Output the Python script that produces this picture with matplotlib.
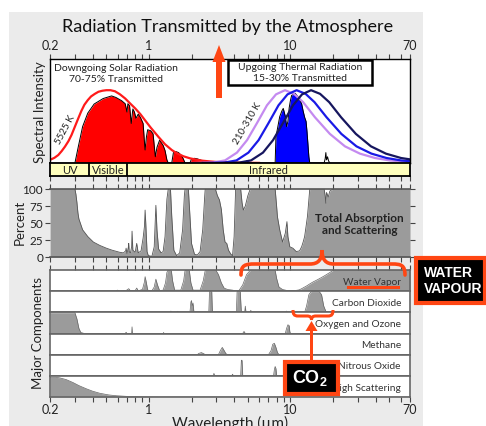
import matplotlib
matplotlib.use('Agg')
import matplotlib.pyplot as plt
import numpy as np
from matplotlib.ticker import FixedLocator, LogLocator, NullFormatter, FixedFormatter
from matplotlib.patches import Rectangle, Polygon, PathPatch
from matplotlib.path import Path

plt.rcParams['font.family'] = ['Lato', 'DejaVu Sans']
plt.rcParams['mathtext.fontset'] = 'custom'
plt.rcParams['mathtext.rm'] = 'Liberation Sans'
plt.rcParams['mathtext.bf'] = 'Liberation Sans:bold'

W, H = 486, 426

# wavelength axis
tick_vals = [0.2, 1, 10, 70]
tick_labels = ['0.2', '1', '10', '70']

# --- top panel: spectral intensity (arbitrary units, 0..1) ---
# 5525 K solar curve
sun_wl = [0.20, 0.215, 0.229, 0.242, 0.255, 0.27, 0.284, 0.30, 0.317, 0.333, 0.35, 0.37,
          0.39, 0.415, 0.44, 0.47, 0.50, 0.535, 0.575, 0.625, 0.68, 0.74, 0.80, 0.87,
          0.94, 1.03, 1.17, 1.30, 1.45, 1.57, 1.75, 1.95, 2.2, 2.4, 2.7, 3.0, 3.6, 4.5, 6.0]
sun_val = [0.03, 0.05, 0.077, 0.115, 0.157, 0.21, 0.27, 0.35, 0.43, 0.50, 0.56, 0.605,
           0.64, 0.665, 0.685, 0.695, 0.70, 0.70, 0.69, 0.66, 0.62, 0.57, 0.525, 0.47,
           0.41, 0.34, 0.25, 0.18, 0.125, 0.095, 0.065, 0.045, 0.03, 0.022, 0.015, 0.01,
           0.006, 0.003, 0.001]

# solar radiation reaching the ground
solar_wl = [0.30, 0.317, 0.34, 0.37, 0.41, 0.475, 0.545, 0.585, 0.64, 0.68, 0.70, 0.71,
            0.73, 0.75, 0.77, 0.79, 0.81, 0.84, 0.87, 0.89, 0.91, 0.93, 0.94, 0.96, 0.98,
            1.03, 1.07, 1.11, 1.14, 1.19, 1.26, 1.30, 1.34, 1.37, 1.45, 1.49, 1.55, 1.62,
            1.70, 1.75, 1.80, 1.95, 2.00, 2.10, 2.20, 2.35, 2.50, 3.3, 3.5, 3.7, 3.9, 4.1]
solar_val = [0.0, 0.157, 0.35, 0.48, 0.567, 0.62, 0.645, 0.63, 0.60, 0.57, 0.49, 0.57,
             0.55, 0.38, 0.52, 0.49, 0.43, 0.47, 0.44, 0.41, 0.38, 0.20, 0.125, 0.25, 0.32,
             0.31, 0.28, 0.06, 0.15, 0.22, 0.17, 0.12, 0.03, 0.0, 0.0, 0.10, 0.11, 0.10,
             0.07, 0.04, 0.0, 0.0, 0.04, 0.045, 0.04, 0.025, 0.0, 0.0, 0.008, 0.012, 0.006, 0.0]

# 210-310 K thermal curves
hot_wl = [2.0, 2.84, 3.45, 4.19, 4.94, 5.81, 6.83, 7.91, 9.16, 10.6, 12.3, 14.9, 19.0,
          24.3, 31.0, 39.6, 50.6, 70]
hot_val = [0.0, 0.004, 0.025, 0.10, 0.22, 0.385, 0.555, 0.66, 0.70, 0.665, 0.585, 0.44,
           0.28, 0.16, 0.09, 0.048, 0.024, 0.01]
mid_wl = [2.4, 3.42, 4.16, 5.05, 5.96, 7.01, 8.24, 9.54, 11.05, 12.8, 14.8, 18.0, 22.9,
          29.3, 37.4, 47.8, 61.0, 70]
mid_val = [0.0, 0.004, 0.025, 0.10, 0.22, 0.385, 0.555, 0.66, 0.70, 0.665, 0.585, 0.44,
           0.28, 0.16, 0.09, 0.048, 0.024, 0.018]
cold_wl = [3.0, 4.34, 5.27, 6.40, 7.54, 8.87, 10.43, 12.08, 13.99, 16.2, 18.8, 22.8,
           29.0, 37.1, 47.3, 60.5, 70]
cold_val = [0.0, 0.004, 0.025, 0.10, 0.22, 0.385, 0.555, 0.66, 0.70, 0.665, 0.585, 0.44,
            0.28, 0.16, 0.09, 0.048, 0.035]

# thermal radiation escaping to space
thermal_wl = [7.8, 7.9, 8.1, 8.4, 8.7, 8.9, 9.2, 9.4, 9.6, 9.8, 10.0, 10.2, 10.5, 10.8,
              11.1, 11.4, 11.7, 12.0, 12.3, 12.6, 12.9, 13.1, 13.3, 13.5, 13.7]
thermal_val = [0.0, 0.25, 0.33, 0.445, 0.50, 0.525, 0.45, 0.35, 0.40, 0.53, 0.60, 0.65,
               0.66, 0.67, 0.65, 0.63, 0.60, 0.57, 0.50, 0.44, 0.40, 0.30, 0.18, 0.06, 0.0]
spike_wl = [4.6, 4.7, 4.8, 4.9, 5.0, 17.3, 17.6, 17.8, 18.0, 18.3, 18.6, 19.0]
spike_val = [0.0, 0.015, 0.005, 0.02, 0.0, 0.0, 0.04, 0.1, 0.03, 0.06, 0.02, 0.0]

band_edges = [0.2, 0.38, 0.70, 70]
band_names = ['UV', 'Visible', 'Infrared']

# --- total absorption and scattering (percent) ---
abs_wl = [0.20, 0.30, 0.305, 0.31, 0.315, 0.32, 0.34, 0.37, 0.405, 0.45, 0.50, 0.55, 0.62,
          0.66, 0.685, 0.69, 0.70, 0.715, 0.72, 0.725, 0.74, 0.755, 0.76, 0.77, 0.80, 0.82,
          0.84, 0.88, 0.91, 0.93, 0.94, 0.95, 0.97, 0.99, 1.05, 1.09, 1.12, 1.14, 1.17,
          1.22, 1.26, 1.30, 1.34, 1.37, 1.42, 1.45, 1.50, 1.57, 1.65, 1.73, 1.78, 1.80,
          1.90, 1.95, 2.0, 2.1, 2.2, 2.3, 2.4, 2.48, 2.5, 2.95, 3.05, 3.15, 3.25, 3.35,
          3.45, 3.55, 3.65, 3.8, 3.9, 4.0, 4.1, 4.45, 4.55, 4.65, 4.8, 5.0, 5.2, 7.8, 7.95,
          8.1, 8.4, 8.8, 9.2, 9.45, 9.6, 9.9, 10.4, 11.0, 11.6, 12.0, 12.3, 12.6, 12.9,
          13.2, 13.7, 17.3, 17.6, 17.8, 18.0, 18.5, 19.0, 20, 70]
abs_pct = [100, 100, 92, 80, 65, 56, 40, 30, 22, 17, 13, 10, 7,
           6, 9, 13, 5, 14, 20, 8, 6, 15, 38, 10, 7, 20,
           6, 9, 28, 45, 69, 50, 8, 2, 1, 15, 76, 40, 12,
           6, 8, 30, 85, 100, 100, 60, 10, 2, 6, 40, 90, 100,
           100, 60, 20, 4, 3, 8, 40, 90, 100, 100, 90, 84, 70, 40,
           22, 20, 10, 4, 2, 30, 100, 100, 80, 69, 75, 90, 100, 100, 80,
           59, 40, 22, 35, 52, 30, 15, 13, 8, 9, 15, 22, 30, 45,
           60, 100, 100, 90, 79, 95, 88, 97, 100, 100]

# --- major components (fraction absorbed) ---
comp_names = ['Water Vapor', 'Carbon Dioxide', 'Oxygen and Ozone', 'Methane',
              'Nitrous Oxide', 'Rayleigh Scattering']
h2o_wl = [0.2, 0.58, 0.6, 0.62, 0.69, 0.72, 0.74, 0.80, 0.82, 0.84, 0.90, 0.93, 0.94,
          0.96, 0.98, 1.05, 1.09, 1.12, 1.15, 1.19, 1.26, 1.31, 1.34, 1.36, 1.44, 1.47,
          1.52, 1.68, 1.76, 1.80, 1.93, 1.98, 2.05, 2.3, 2.42, 2.5, 2.98, 3.1, 3.25, 3.4,
          3.6, 3.9, 4.2, 4.3, 4.6, 4.9, 5.2, 7.8, 8.0, 8.3, 8.8, 9.5, 10.5, 11.5, 12.0,
          13.0, 13.7, 14.5, 15.5, 16.5, 17.5, 19.0, 20.0, 70]
h2o_val = [0, 0, 0.05, 0, 0.03, 0.12, 0.02, 0.03, 0.15, 0.02, 0.08, 0.45, 0.70,
           0.4, 0.05, 0.02, 0.2, 0.58, 0.3, 0.03, 0.05, 0.4, 0.9, 1.0, 1.0, 0.5,
           0.05, 0.05, 0.5, 1.0, 1.0, 0.4, 0.05, 0.05, 0.5, 1.0, 1.0, 0.8, 0.4, 0.15,
           0.08, 0.05, 0.0, 0.0, 0.3, 0.8, 1.0, 1.0, 0.6, 0.2, 0.08, 0.03, 0.02, 0.06, 0.12,
           0.25, 0.35, 0.45, 0.55, 0.65, 0.75, 0.9, 1.0, 1.0]
co2_wl = [0.2, 1.42, 1.43, 1.45, 1.57, 1.6, 1.62, 1.95, 1.98, 2.0, 2.02, 2.05, 2.08,
          2.65, 2.68, 2.78, 2.81, 4.15, 4.2, 4.42, 4.5, 4.75, 4.8, 4.85, 5.2, 5.25, 5.3,
          9.3, 9.4, 9.5, 10.3, 10.4, 10.5, 12.6, 13.0, 13.5, 14.0, 16.0, 16.6, 17.2,
          17.8, 18.5, 70]
co2_val = [0, 0, 0.06, 0, 0, 0.05, 0, 0, 0.5, 0.57, 0.3, 0.45, 0,
           0, 1.0, 1.0, 0, 0, 1.0, 1.0, 0, 0, 0.3, 0, 0, 0.1, 0,
           0, 0.06, 0, 0, 0.05, 0, 0, 0.3, 0.85, 1.0, 1.0, 0.85, 0.3,
           0.05, 0, 0]
o3_wl = [0.2, 0.30, 0.31, 0.32, 0.33, 0.35, 0.68, 0.69, 0.70, 0.755, 0.76, 0.765, 1.26,
         1.27, 1.28, 4.6, 4.7, 4.8, 9.2, 9.4, 9.6, 9.8, 9.9, 10.0, 70]
o3_val = [1.0, 1.0, 0.7, 0.25, 0.05, 0, 0, 0.06, 0, 0, 0.32, 0, 0,
          0.05, 0, 0, 0.1, 0, 0, 0.25, 0.42, 0.38, 0.1, 0, 0]
ch4_wl = [0.2, 2.2, 2.25, 2.35, 2.45, 2.5, 3.1, 3.2, 3.3, 3.4, 3.5, 3.6, 7.0, 7.3, 7.5,
          7.7, 7.9, 8.1, 8.3, 70]
ch4_val = [0, 0, 0.06, 0.1, 0.04, 0, 0, 0.2, 0.35, 0.2, 0.05, 0, 0, 0.2, 0.5,
           0.55, 0.35, 0.1, 0, 0]
n2o_wl = [0.2, 2.85, 2.88, 2.92, 3.85, 3.9, 3.95, 4.45, 4.5, 4.55, 4.6, 7.6, 7.7, 7.8,
          7.9, 8.0, 70]
n2o_val = [0, 0, 0.12, 0, 0, 0.08, 0, 0, 0.75, 0.75, 0, 0, 0.3, 0.45, 0.35, 0, 0]
ray_wl = [0.2, 0.22, 0.235, 0.26, 0.29, 0.32, 0.36, 0.40, 0.45, 0.52, 0.59, 0.68, 0.77,
          0.9, 1.0, 1.2, 70]
ray_val = [0.95, 0.95, 0.92, 0.84, 0.70, 0.55, 0.40, 0.28, 0.18, 0.10, 0.06, 0.035, 0.02,
           0.01, 0.005, 0, 0]
comp_wl = [h2o_wl, co2_wl, o3_wl, ch4_wl, n2o_wl, ray_wl]
comp_val = [h2o_val, co2_val, o3_val, ch4_val, n2o_val, ray_val]

GRAY = '#9b9b9b'
ORANGE = '#ff4613'


def px_box(x0, y0, x1, y1):
    return [x0 / W, 1 - y1 / H, (x1 - x0) / W, (y1 - y0) / H]


def log_x(ax):
    ax.set_xscale('log')
    ax.set_xlim(0.2, 70)
    ax.xaxis.set_major_locator(FixedLocator(tick_vals))
    ax.xaxis.set_major_formatter(FixedFormatter(tick_labels))
    ax.xaxis.set_minor_locator(LogLocator(base=10, subs=np.arange(2, 10), numticks=20))
    ax.xaxis.set_minor_formatter(NullFormatter())
    ax.tick_params(axis='x', which='both', direction='out', length=3.5, width=0.8,
                   color='#444444', labelsize=9, labelcolor='#222222', pad=1.5)


fig = plt.figure(figsize=(W / 100, H / 100), dpi=100)
fig.patch.set_facecolor('white')
fig.add_artist(Rectangle((9 / W, 0), (423 - 9) / W, 1 - 12 / H, transform=fig.transFigure,
                         facecolor='#ebebeb', edgecolor='none', zorder=-10))

# top panel
ax = fig.add_axes(px_box(50, 59, 410, 163))
log_x(ax)
ax.set_ylim(0, 1)
ax.set_yticks([])
ax.tick_params(axis='x', which='both', top=True, bottom=False, labeltop=True, labelbottom=False)
ax.fill_between(solar_wl, solar_val, color='#ff0000', lw=0)
ax.plot(solar_wl, solar_val, color='black', lw=0.7)
ax.plot(sun_wl, sun_val, color='#ff1a1a', lw=1.6)
ax.fill_between(thermal_wl, thermal_val, color='#0000ff', lw=0)
ax.plot(thermal_wl, thermal_val, color='black', lw=0.7)
ax.plot(spike_wl, spike_val, color='black', lw=0.7)
ax.plot(hot_wl, hot_val, color='#c48af0', lw=1.6)
ax.plot(mid_wl, mid_val, color='#1a1ae6', lw=1.6)
ax.plot(cold_wl, cold_val, color='#16165e', lw=1.6)
for s in ax.spines.values():
    s.set_linewidth(1.0)

# UV / Visible / Infrared band
axb = fig.add_axes(px_box(50, 163, 410, 176))
log_x(axb)
axb.set_ylim(0, 1)
axb.set_yticks([])
axb.set_facecolor('#ffffbd')
axb.tick_params(axis='x', which='both', labelbottom=False)
for e in band_edges[1:-1]:
    axb.axvline(e, color='black', lw=1.3)
for i, name in enumerate(band_names):
    mid = np.sqrt(band_edges[i] * band_edges[i + 1])
    axb.text(mid, 0.45, name, ha='center', va='center', fontsize=8, color='#222222')
for s in axb.spines.values():
    s.set_linewidth(1.3)

# total absorption panel
axp = fig.add_axes(px_box(50, 189, 410, 257))
log_x(axp)
axp.set_ylim(0, 100)
axp.fill_between(abs_wl, abs_pct, color=GRAY, lw=0)
axp.plot(abs_wl, abs_pct, color='#555555', lw=0.6)
axp.tick_params(axis='x', which='both', top=True, labelbottom=False)
axp.set_yticks([0, 25, 50, 75, 100])
axp.tick_params(axis='y', direction='out', length=3.5, width=0.8, color='#444444',
                labelsize=8.5, labelcolor='#222222', pad=1.5, right=True)
axp.spines['left'].set_visible(False)
axp.spines['right'].set_visible(False)
for k in ['top', 'bottom']:
    axp.spines[k].set_color('#555555')
    axp.spines[k].set_linewidth(1.2)
axp.text(0.86, 0.48, 'Total Absorption\nand Scattering', transform=axp.transAxes,
         ha='center', va='center', fontsize=8.5, fontweight='bold', color='#222222',
         linespacing=1.1)

# major components
strip = (397 - 270) / 6
for i, name in enumerate(comp_names):
    axc = fig.add_axes(px_box(50, 270 + i * strip, 410, 270 + (i + 1) * strip))
    log_x(axc)
    axc.set_ylim(0, 1.02)
    axc.set_yticks([])
    axc.fill_between(comp_wl[i], comp_val[i], color=GRAY, lw=0)
    axc.plot(comp_wl[i], comp_val[i], color='#666666', lw=0.5)
    axc.tick_params(axis='x', which='both', top=(i == 0), bottom=(i == 5),
                    labelbottom=(i == 5))
    for s in axc.spines.values():
        s.set_color('#666666')
        s.set_linewidth(1.2)
    axc.text(0.975, 0.42, name, transform=axc.transAxes, ha='right', va='center',
             fontsize=7.3, color='#333333')

# titles and axis labels
fig.text(228 / W, 1 - 27 / H, 'Radiation Transmitted by the Atmosphere', ha='center',
         va='center', fontsize=13, color='#111111')
fig.text(40 / W, 1 - 112 / H, 'Spectral Intensity', rotation=90, ha='center', va='center',
         fontsize=9.5, color='#222222')
fig.text(20 / W, 1 - 222 / H, 'Percent', rotation=90, ha='center', va='center',
         fontsize=9.5, color='#222222')
fig.text(38 / W, 1 - 333 / H, 'Major Components', rotation=90, ha='center', va='center',
         fontsize=9.5, color='#222222')
fig.text(230 / W, 1 - 423 / H, 'Wavelength (\u00b5m)', ha='center', va='center',
         fontsize=11, color='#222222')

# overlay in pixel coordinates for labels and annotations
ov = fig.add_axes([0, 0, 1, 1])
ov.set_xlim(0, W)
ov.set_ylim(H, 0)
ov.axis('off')
ov.patch.set_alpha(0)

ov.text(116, 74, 'Downgoing Solar Radiation\n70-75% Transmitted', ha='center', va='center',
        fontsize=7.5, color='#222222', linespacing=1.15)
ov.add_patch(Rectangle((228, 59.5), 144, 25.5, facecolor='white', edgecolor='black', lw=1.8))
ov.text(300, 73, 'Upgoing Thermal Radiation\n15-30% Transmitted', ha='center', va='center',
        fontsize=7.5, color='#222222', linespacing=1.15)
ov.text(65, 130, '5525 K', rotation=62, ha='center', va='center', fontsize=7, color='#222222')
ov.text(247, 124, '210-310 K', rotation=60, ha='center', va='center', fontsize=7,
        color='#222222')

# big arrow over the top panel
ov.add_patch(Rectangle((216, 61), 6, 37, facecolor=ORANGE, edgecolor='none'))
ov.add_patch(Polygon([(212.5, 62), (225.5, 62), (219, 45)], closed=True, facecolor=ORANGE,
                     edgecolor='none'))

# brace over the water vapour strip
big = Path([(241, 275), (241, 265), (245, 264), (255, 264), (310, 264),
            (318, 264), (322, 260), (322, 250), (322, 260), (326, 264), (334, 264),
            (392, 264), (401, 264), (405, 265), (405, 275)],
           [Path.MOVETO, Path.CURVE4, Path.CURVE4, Path.CURVE4, Path.LINETO,
            Path.CURVE4, Path.CURVE4, Path.CURVE4, Path.CURVE4, Path.CURVE4, Path.CURVE4,
            Path.LINETO, Path.CURVE4, Path.CURVE4, Path.CURVE4])
ov.add_patch(PathPatch(big, facecolor='none', edgecolor=ORANGE, lw=2.6, capstyle='round'))
ov.plot([348, 398], [287, 287], color=ORANGE, lw=2.2)

# small brace under the CO2 band
small = Path([(293, 310), (293, 314), (294, 316), (298, 316), (307, 316),
              (310, 316), (311.5, 317), (311.5, 320), (311.5, 317), (313, 316), (316, 316),
              (328, 316), (332, 316), (333, 314), (333, 310)],
             [Path.MOVETO, Path.CURVE4, Path.CURVE4, Path.CURVE4, Path.LINETO,
              Path.CURVE4, Path.CURVE4, Path.CURVE4, Path.CURVE4, Path.CURVE4, Path.CURVE4,
              Path.LINETO, Path.CURVE4, Path.CURVE4, Path.CURVE4])
ov.add_patch(PathPatch(small, facecolor='none', edgecolor=ORANGE, lw=2.2))
ov.add_patch(Rectangle((310, 330), 3, 32, facecolor=ORANGE, edgecolor='none'))
ov.add_patch(Polygon([(305.5, 331), (317.5, 331), (311.5, 321)], closed=True,
                     facecolor=ORANGE, edgecolor='none'))

# label boxes
ov.add_patch(Rectangle((416, 258), 68.5, 45, facecolor='black', edgecolor=ORANGE, lw=3))
ov.text(424, 281, 'WATER\nVAPOUR', ha='left', va='center', fontsize=10, color='white',
        fontweight='bold', family='Liberation Sans', linespacing=1.15)
ov.add_patch(Rectangle((284.5, 362), 53, 31.5, facecolor='black', edgecolor=ORANGE, lw=3))
ov.text(310, 378, r'$\mathbf{CO_2}$', ha='center', va='center', fontsize=13, color='white')

fig.savefig('out.png', dpi=100)
